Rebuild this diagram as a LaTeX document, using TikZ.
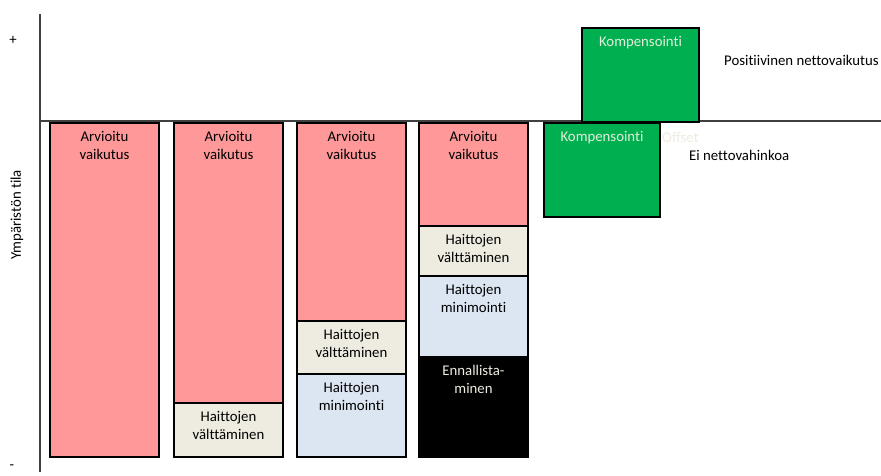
\documentclass[tikz,border=0pt]{standalone}
\usepackage{fontspec}
\setmainfont{Carlito}[Ligatures={NoCommon}]
\definecolor{impred}{HTML}{FF9999}
\definecolor{avbeige}{HTML}{EEECE1}
\definecolor{minblue}{HTML}{DCE6F2}
\definecolor{compgreen}{HTML}{00B050}
\definecolor{comptext}{HTML}{E4EEDC}
\definecolor{axisgray}{HTML}{404040}
\definecolor{offsettext}{HTML}{EEEADF}
\tikzset{
  box/.style={draw=black, line width=2pt, anchor=north west, inner sep=0pt, minimum width=109pt},
  lbl/.style={anchor=north, align=center, inner sep=0pt, font=\fontsize{14.8}{18}\selectfont},
  txt/.style={anchor=west, inner sep=0pt, font=\fontsize{14.8}{18}\selectfont},
  axisline/.style={draw=axisgray, line width=2pt},
}
\begin{document}
\begin{tikzpicture}[x=1pt,y=-1pt]
\useasboundingbox (0,0) rectangle (881,475);
% axes
\coordinate (atop) at (40,14);
\coordinate (abot) at (40,472);
\coordinate (bl) at (40,121);
\coordinate (br) at (881,121);
\draw[axisline] (atop) -- (abot);
\draw[axisline] (bl) -- (br);
\node[txt, anchor=center] (plus) at (13,40) {+};
\node[txt, anchor=center] (minus) at (12,467) {-};
\node[txt, anchor=center, rotate=90] (ylab) at (17,215) {Ympäristön tila};
% column 1
\node[box, fill=impred, minimum height=334pt] (c1r) at (49,122) {};
\node[lbl] (c1rt) at ([yshift=-9pt]c1r.north) {Arvioitu\\vaikutus};
% column 2
\node[box, fill=impred, minimum height=280pt] (c2r) at (173,122) {};
\node[lbl] (c2rt) at ([yshift=-9pt]c2r.north) {Arvioitu\\vaikutus};
\node[box, fill=avbeige, minimum height=54pt] (c2b) at (173,402) {};
\node[lbl] (c2bt) at ([yshift=-9pt]c2b.north) {Haittojen\\välttäminen};
% column 3
\node[box, fill=impred, minimum height=198pt] (c3r) at (296,122) {};
\node[lbl] (c3rt) at ([yshift=-9pt]c3r.north) {Arvioitu\\vaikutus};
\node[box, fill=avbeige, minimum height=53pt] (c3b) at (296,320) {};
\node[lbl] (c3bt) at ([yshift=-9pt]c3b.north) {Haittojen\\välttäminen};
\node[box, fill=minblue, minimum height=83pt] (c3m) at (296,373) {};
\node[lbl] (c3mt) at ([yshift=-9pt]c3m.north) {Haittojen\\minimointi};
% column 4
\node[box, fill=impred, minimum height=103pt] (c4r) at (418,122) {};
\node[lbl] (c4rt) at ([yshift=-9pt]c4r.north) {Arvioitu\\vaikutus};
\node[box, fill=avbeige, minimum height=50pt] (c4b) at (418,225) {};
\node[lbl] (c4bt) at ([yshift=-9pt]c4b.north) {Haittojen\\välttäminen};
\node[box, fill=minblue, minimum height=81pt] (c4m) at (418,275) {};
\node[lbl] (c4mt) at ([yshift=-9pt]c4m.north) {Haittojen\\minimointi};
\node[box, fill=black, minimum height=100pt] (c4e) at (418,356) {};
\node[lbl, text=avbeige] (c4et) at ([yshift=-9pt]c4e.north) {Ennallista-\\minen};
% compensation
\node[box, fill=compgreen, minimum width=116pt, minimum height=94pt] (g1) at (543,122) {};
\node[lbl, text=comptext] (g1t) at ([yshift=-9pt]g1.north) {Kompensointi};
\node[box, fill=compgreen, minimum width=117pt, minimum height=94pt] (g2) at (581,27) {};
\node[lbl, text=comptext] (g2t) at ([yshift=-9pt]g2.north) {Kompensointi};
% side texts
\node[txt, text=offsettext] (off) at (662,137) {Offset};
\node[txt] (ei) at (689,155) {Ei nettovahinkoa};
\node[txt] (pos) at (724,60) {Positiivinen nettovaikutus};
\end{tikzpicture}
\end{document}
